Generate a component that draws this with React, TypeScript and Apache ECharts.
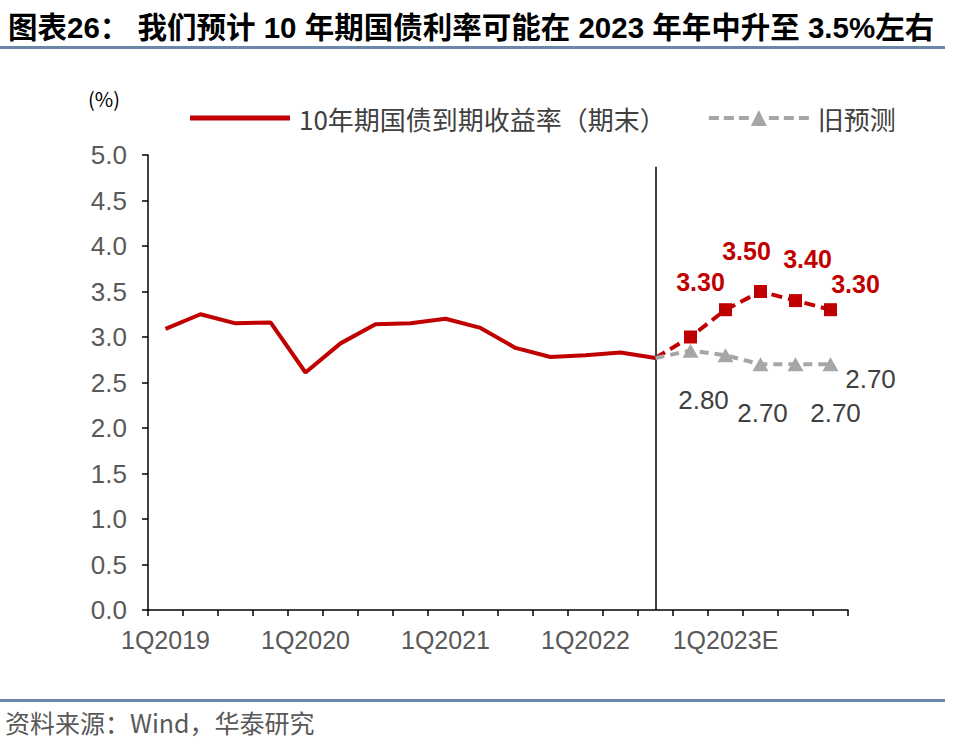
import React, { useEffect, useRef } from 'react';
import * as echarts from 'echarts';

// ---------- data ----------
const categories = [
  '1Q2019', '2Q2019', '3Q2019', '4Q2019',
  '1Q2020', '2Q2020', '3Q2020', '4Q2020',
  '1Q2021', '2Q2021', '3Q2021', '4Q2021',
  '1Q2022', '2Q2022', '3Q2022', '4Q2022E',
  '1Q2023E', '2Q2023E', '3Q2023E', '4Q2023E',
];
// actual 10Y CGB yield (period end), 1Q2019 .. 3Q2022
const actualYield = [3.09, 3.25, 3.15, 3.16, 2.61, 2.93, 3.14, 3.15, 3.2, 3.1, 2.88, 2.78, 2.8, 2.83, 2.77];
// new forecast, 4Q2022E .. 4Q2023E
const newForecast = [3.0, 3.3, 3.5, 3.4, 3.3];
// old forecast, 4Q2022E .. 4Q2023E
const oldForecast = [2.85, 2.8, 2.7, 2.7, 2.7];
const yTicks = { min: 0, max: 5, step: 0.5 };
const dividerTopValue = 4.87;

const titleText = '图表26： 我们预计 10 年期国债利率可能在 2023 年年中升至 3.5%左右';
const legendNames = ['10年期国债到期收益率（期末）', '旧预测'];
const forecastName = '新预测';
const unitText = '(%)';
const sourceText = '资料来源：Wind，华泰研究';

export default function App() {
  const ref = useRef<HTMLDivElement>(null);

  useEffect(() => {
    const chart = echarts.init(ref.current as HTMLDivElement, null, { renderer: 'svg' });

    const red = '#C00000';
    const gray = '#A6A6A6';
    const numFont = '"Liberation Sans", Arial, "Noto Sans CJK SC", sans-serif';
    const cjkFont = '"Noto Sans CJK SC", "Liberation Sans", sans-serif';

    const lastIdx = actualYield.length - 1;
    const lastVal = actualYield[lastIdx];
    const pad = Array(lastIdx).fill(null);

    const redLabelOffsets: (number[] | null)[] = [null, [-25, -28], [-14, -41], [12, -42], [25, -26]];
    const grayLabelOffsets: (number[] | null)[] = [null, [-22, 45], [2, 49], [40, 49], [40, 15]];

    const fmt = (p: any) => Number(p.value).toFixed(2);

    const redData = [
      ...pad,
      { value: lastVal, symbol: 'none' },
      ...newForecast.map((v, i) => {
        const off = redLabelOffsets[i];
        return {
          value: v,
          label: off
            ? {
                show: true,
                position: 'inside',
                offset: off,
                formatter: fmt,
                color: red,
                fontSize: 25,
                fontWeight: 'bold',
                fontFamily: numFont,
              }
            : { show: false },
        };
      }),
    ];

    const grayData = [
      ...pad,
      { value: lastVal, symbol: 'none' },
      ...oldForecast.map((v, i) => {
        const off = grayLabelOffsets[i];
        return {
          value: v,
          label: off
            ? {
                show: true,
                position: 'inside',
                offset: off,
                formatter: fmt,
                color: '#404040',
                fontSize: 26,
                fontFamily: numFont,
              }
            : { show: false },
        };
      }),
    ];

    const redIcon = 'path://M0,0M0,5.5h100v5h-100zM100,16';
    const grayIcon =
      'path://M0,6h10v4h-10zM15,6h10v4h-10zM30,6h10v4h-10zM42,16L50,0L58,16zM60,6h10v4h-10zM75,6h10v4h-10zM90,6h10v4h-10z';

    const option: any = {
      animation: false,
      backgroundColor: '#ffffff',
      grid: { left: 148, right: 108, top: 155, bottom: 137, containLabel: false },
      legend: {
        left: 190,
        top: 105,
        padding: 0,
        itemWidth: 100,
        itemHeight: 16,
        itemGap: 43,
        selectedMode: false,
        itemStyle: { borderWidth: 0 },
        textStyle: {
          fontSize: 26,
          color: '#404040',
          fontFamily: cjkFont,
          padding: [0, 0, 0, 4],
        },
        data: [
          { name: legendNames[0], icon: redIcon },
          { name: legendNames[1], icon: grayIcon },
        ],
      },
      xAxis: {
        type: 'category',
        data: categories,
        boundaryGap: true,
        axisLine: { show: true, lineStyle: { color: '#000', width: 1.5 } },
        axisTick: { show: true, interval: 0, length: 6, lineStyle: { color: '#000', width: 1.5 } },
        axisLabel: {
          interval: 3,
          fontSize: 25,
          color: '#595959',
          fontFamily: numFont,
          margin: 17,
        },
        splitLine: { show: false },
      },
      yAxis: {
        type: 'value',
        min: yTicks.min,
        max: yTicks.max,
        interval: yTicks.step,
        axisLine: { show: true, lineStyle: { color: '#000', width: 1.5 } },
        axisTick: { show: true, length: 6, lineStyle: { color: '#000', width: 1.5 } },
        axisLabel: {
          fontSize: 26,
          color: '#595959',
          fontFamily: numFont,
          margin: 21,
          formatter: (v: number) => v.toFixed(1),
        },
        splitLine: { show: false },
      },
      series: [
        {
          name: legendNames[0],
          type: 'line',
          data: [...actualYield, ...Array(newForecast.length).fill(null)],
          symbol: 'none',
          lineStyle: { color: red, width: 4 },
          itemStyle: { color: red },
          z: 3,
          markLine: {
            silent: true,
            symbol: ['none', 'none'],
            label: { show: false },
            lineStyle: { color: '#000', width: 1.5, type: 'solid' },
            data: [[{ coord: [lastIdx, 0] }, { coord: [lastIdx, dividerTopValue] }]],
          },
        },
        {
          name: forecastName,
          type: 'line',
          data: redData,
          symbol: 'rect',
          symbolSize: 13,
          lineStyle: { color: red, width: 4, type: [11, 6] },
          itemStyle: { color: red, borderWidth: 0 },
          z: 4,
        },
        {
          name: legendNames[1],
          type: 'line',
          data: grayData,
          symbol: 'triangle',
          symbolSize: [16, 14],
          lineStyle: { color: gray, width: 4, type: [9, 6] },
          itemStyle: { color: gray, borderWidth: 0 },
          z: 5,
        },
      ],
      graphic: [
        {
          type: 'text',
          x: 8,
          y: 27,
          style: {
            text: titleText,
            fill: '#000',
            fontSize: 29.5,
            fontWeight: 'bold',
            fontFamily: numFont,
            verticalAlign: 'middle',
          },
        },
        {
          type: 'rect',
          shape: { x: 0, y: 46, width: 945, height: 3 },
          style: { fill: '#6A86A8' },
        },
        {
          type: 'text',
          x: 88,
          y: 98,
          style: {
            text: unitText,
            fill: '#000',
            fontSize: 20,
            fontFamily: cjkFont,
            verticalAlign: 'middle',
          },
        },
        {
          type: 'rect',
          shape: { x: 0, y: 699, width: 945, height: 3 },
          style: { fill: '#6A86A8' },
        },
        {
          type: 'text',
          x: 5,
          y: 722,
          style: {
            text: sourceText,
            fill: '#595959',
            fontSize: 25,
            fontFamily: cjkFont,
            verticalAlign: 'middle',
          },
        },
      ],
    };

    chart.setOption(option);
    return () => {
      chart.dispose();
    };
  }, []);

  return (
    <div
      ref={ref}
      style={{ position: 'absolute', left: 0, top: 0, width: 956, height: 747, background: '#fff' }}
    />
  );
}
